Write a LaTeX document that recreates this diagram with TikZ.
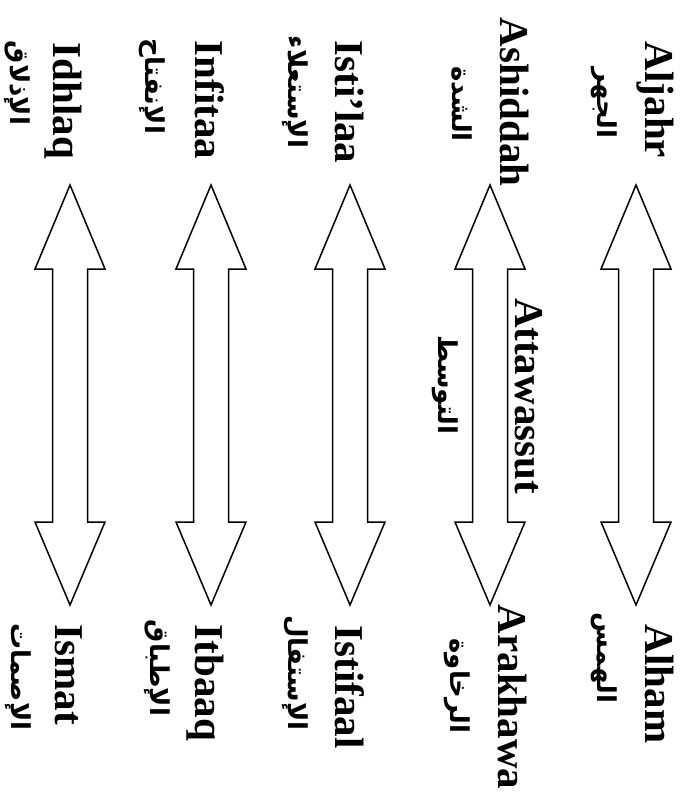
\documentclass[tikz,border=0pt]{standalone}
\usepackage{fontspec}
\setmainfont{Liberation Serif}
\newfontfamily\arabicfont[Script=Arabic]{DejaVu Sans}
\TeXXeTstate=1
\tikzset{
  lat/.style={font=\bfseries\fontsize{41}{41}\selectfont, rotate=-90, anchor=base, inner sep=0pt},
  arb/.style={font=\arabicfont\bfseries\fontsize{26}{26}\selectfont, rotate=-90, inner sep=0pt},
  dbl/.style={draw=black, line width=1.5pt, fill=white, line join=miter}
}
\begin{document}
\begin{tikzpicture}[x=1pt,y=-1pt]
  \useasboundingbox (0,0) rectangle (680,805);

  \draw[dbl] (636,185) -- ++(35,84) -- ++(-17.5,0) -- ++(0,253) -- ++(17.5,0) -- ++(-35,83) -- ++(-35,-83) -- ++(17.5,0) -- ++(0,-253) -- ++(-17.5,0) -- cycle;
  \draw[dbl] (490,185) -- ++(35,84) -- ++(-17.5,0) -- ++(0,253) -- ++(17.5,0) -- ++(-35,83) -- ++(-35,-83) -- ++(17.5,0) -- ++(0,-253) -- ++(-17.5,0) -- cycle;
  \draw[dbl] (350,185) -- ++(35,84) -- ++(-17.5,0) -- ++(0,253) -- ++(17.5,0) -- ++(-35,83) -- ++(-35,-83) -- ++(17.5,0) -- ++(0,-253) -- ++(-17.5,0) -- cycle;
  \draw[dbl] (211,185) -- ++(35,84) -- ++(-17.5,0) -- ++(0,253) -- ++(17.5,0) -- ++(-35,83) -- ++(-35,-83) -- ++(17.5,0) -- ++(0,-253) -- ++(-17.5,0) -- cycle;
  \draw[dbl] (70,185) -- ++(35,84) -- ++(-17.5,0) -- ++(0,253) -- ++(17.5,0) -- ++(-35,83) -- ++(-35,-83) -- ++(17.5,0) -- ++(0,-253) -- ++(-17.5,0) -- cycle;

  \node[lat] (aljahr) at (645,100) {Aljahr};
  \node[arb] (aljahrar) at (604,103) {\beginR الجهر\endR};
  \node[lat] (alham) at (645,684) {Alham};
  \node[arb] (alhamar) at (604,658) {\beginR الهمس\endR};

  \node[lat] (ashiddah) at (500,102) {Ashiddah};
  \node[arb] (ashiddahar) at (462,104) {\beginR الشدة\endR};
  \node[lat] (arakhawa) at (498,697) {Arakhawa};
  \node[arb] (arakhawaar) at (457,686) {\beginR الرخاوة\endR};
  \node[lat] (attawassut) at (515,396) {Attawassut};
  \node[arb] (attawassutar) at (445,385) {\beginR التوسط\endR};

  \node[lat] (istilaa) at (335,102) {Isti’laa};
  \node[arb] (istilaaar) at (295,92) {\beginR الإستعلاء\endR};
  \node[lat] (istifaal) at (335,687) {Istifaal};
  \node[arb] (istifaalar) at (295,673) {\beginR الإستفال\endR};

  \node[lat] (infitaa) at (195,100) {Infitaa};
  \node[arb] (infitaaar) at (152,86) {\beginR الإنفتاح\endR};
  \node[lat] (itbaaq) at (195,683) {Itbaaq};
  \node[arb] (itbaaqar) at (157,668) {\beginR الإطباق\endR};

  \node[lat] (idhlaq) at (53,101) {Idhlaq};
  \node[arb] (idhlaqar) at (17,83) {\beginR الإذلاق\endR};
  \node[lat] (ismat) at (55,675) {Ismat};
  \node[arb] (ismatar) at (18,677) {\beginR الإصمات\endR};
\end{tikzpicture}
\end{document}
